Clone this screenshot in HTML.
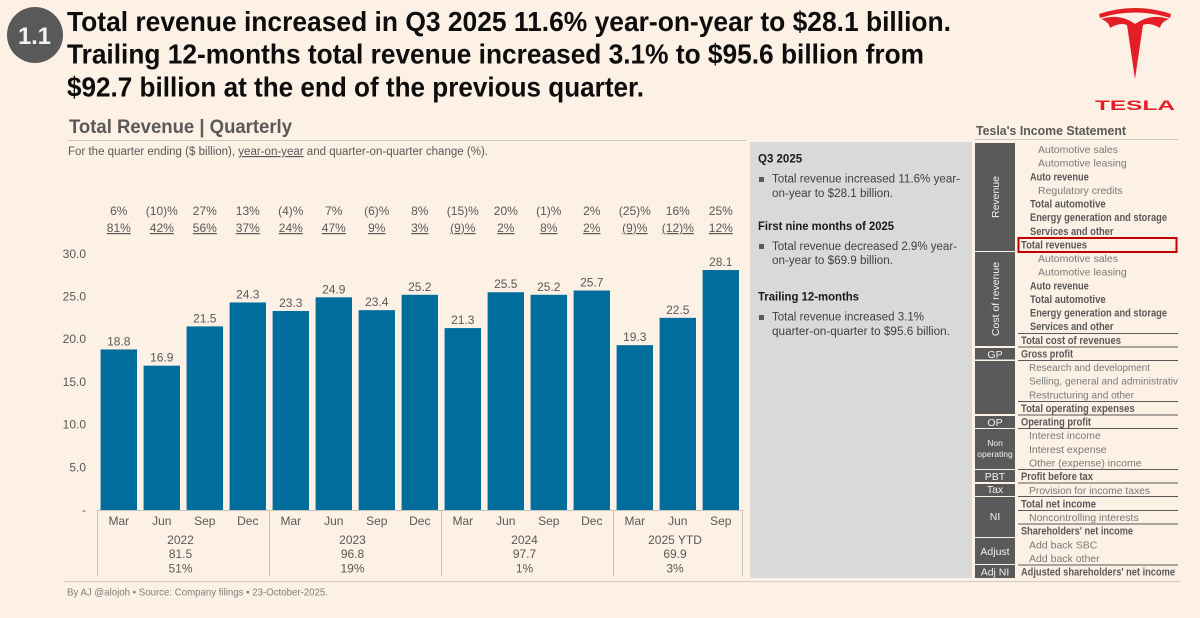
<!DOCTYPE html>
<html lang="en">
<head>
<meta charset="utf-8">
<title>Tesla Total Revenue Quarterly</title>
<style>
html,body{margin:0;padding:0;background:#fdf0e4;}
svg{display:block;font-family:"Liberation Sans",Arial,sans-serif;}
.r{font-size:10.5px;fill:#7a7a7a;}
.b{font-size:11px;font-weight:bold;fill:#595959;}
.rule{stroke:#595959;stroke-width:1;}
.side{fill:#595959;}
.sl{font-size:10.5px;fill:#f2f2f2;text-anchor:middle;}
.nt{font-size:11.5px;fill:#404040;}
.nh{font-size:11.5px;font-weight:bold;fill:#1a1a1a;}
</style>
</head>
<body>
<svg id="page" width="1200" height="618" viewBox="0 0 1200 618" xmlns="http://www.w3.org/2000/svg">
<rect width="1200" height="618" fill="#fdf0e4"/>

<circle cx="35" cy="35" r="28" fill="#595959"/>
<text x="18" y="44" font-size="24" font-weight="bold" fill="#f2f2f2" textLength="33" lengthAdjust="spacing">1.1</text>

<text x="67" y="31" font-size="28" font-weight="bold" fill="#0d0d0d" textLength="884" lengthAdjust="spacingAndGlyphs">Total revenue increased in Q3 2025 11.6% year-on-year to $28.1 billion.</text>
<text x="67" y="63.5" font-size="28" font-weight="bold" fill="#0d0d0d" textLength="857" lengthAdjust="spacingAndGlyphs">Trailing 12-months total revenue increased 3.1% to $95.6 billion from</text>
<text x="67" y="96.5" font-size="28" font-weight="bold" fill="#0d0d0d" textLength="577" lengthAdjust="spacingAndGlyphs">$92.7 billion at the end of the previous quarter.</text>

<g fill="#e31e26">
<path d="M1099,14 Q1135,2 1171,14 L1170,18 Q1135,7 1100,18 Z"/>
<path d="M1101,19 Q1120,13 1135,24 Q1150,13 1169,19 Q1161,22 1160,28 Q1150,22 1143,25 L1135,79 L1127,25 Q1120,22 1110,28 Q1109,22 1101,19 Z"/>
<text x="1095" y="110" font-size="14" font-weight="bold" textLength="80" lengthAdjust="spacingAndGlyphs">TESLA</text>
</g>

<text x="69" y="133" font-size="19" font-weight="bold" fill="#595959" textLength="223" lengthAdjust="spacingAndGlyphs">Total Revenue | Quarterly</text>
<line x1="67" y1="140.5" x2="746" y2="140.5" stroke="#cfc8c0" stroke-width="1"/>
<text x="68" y="155" font-size="11.5" fill="#595959" textLength="420" lengthAdjust="spacingAndGlyphs">For the quarter ending ($ billion), <tspan text-decoration="underline">year-on-year</tspan> and quarter-on-quarter change (%).</text>

<g id="chart"></g>

<rect x="750" y="142" width="222" height="436" fill="#d9d9d9"/>
<text class="nh" x="758" y="162.5">Q3 2025</text>
<rect x="759" y="177" width="5" height="5" fill="#595959"/>
<text class="nt" x="772" y="182.5" textLength="188" lengthAdjust="spacingAndGlyphs">Total revenue increased 11.6% year-</text>
<text class="nt" x="772" y="197" textLength="121" lengthAdjust="spacingAndGlyphs">on-year to $28.1 billion.</text>
<text class="nh" x="758" y="230" textLength="136" lengthAdjust="spacingAndGlyphs">First nine months of 2025</text>
<rect x="759" y="244" width="5" height="5" fill="#595959"/>
<text class="nt" x="772" y="250" textLength="185" lengthAdjust="spacingAndGlyphs">Total revenue decreased 2.9% year-</text>
<text class="nt" x="772" y="264" textLength="121" lengthAdjust="spacingAndGlyphs">on-year to $69.9 billion.</text>
<text class="nh" x="758" y="300.5" textLength="101" lengthAdjust="spacingAndGlyphs">Trailing 12-months</text>
<rect x="759" y="315" width="5" height="5" fill="#595959"/>
<text class="nt" x="772" y="320.5" textLength="152" lengthAdjust="spacingAndGlyphs">Total revenue increased 3.1%</text>
<text class="nt" x="772" y="335" textLength="178" lengthAdjust="spacingAndGlyphs">quarter-on-quarter to $95.6 billion.</text>

<text x="976" y="135" font-size="12.5" font-weight="bold" fill="#595959" textLength="150" lengthAdjust="spacingAndGlyphs">Tesla's Income Statement</text>
<line x1="975" y1="139.5" x2="1178" y2="139.5" stroke="#cfc8c0" stroke-width="1"/>

<g>
<rect class="side" x="975" y="143" width="40" height="108"/>
<text class="sl" transform="translate(999,197) rotate(-90)">Revenue</text>
<rect class="side" x="975" y="252" width="40" height="94"/>
<text class="sl" transform="translate(999,299) rotate(-90)">Cost of revenue</text>
<rect class="side" x="975" y="348" width="40" height="11.5"/>
<text class="sl" x="995" y="358">GP</text>
<rect class="side" x="975" y="361" width="40" height="53"/>
<rect class="side" x="975" y="416" width="40" height="12"/>
<text class="sl" x="995" y="426">OP</text>
<rect class="side" x="975" y="429" width="40" height="40"/>
<text class="sl" style="font-size:8.5px" x="995" y="446">Non</text>
<text class="sl" style="font-size:8.5px" x="995" y="457">operating</text>
<rect class="side" x="975" y="470" width="40" height="12"/>
<text class="sl" x="995" y="480">PBT</text>
<rect class="side" x="975" y="484" width="40" height="12"/>
<text class="sl" x="995" y="493">Tax</text>
<rect class="side" x="975" y="497" width="40" height="40"/>
<text class="sl" x="995" y="520">NI</text>
<rect class="side" x="975" y="538" width="40" height="26"/>
<text class="sl" x="995" y="555">Adjust</text>
<rect class="side" x="975" y="565" width="40" height="13"/>
<text class="sl" x="995" y="575.5">Adj NI</text>
</g>

<g>
<text class="r" x="1038" y="153">Automotive sales</text>
<text class="r" x="1038" y="166.6">Automotive leasing</text>
<text class="b" x="1030" y="180.3" textLength="58.7" lengthAdjust="spacingAndGlyphs">Auto revenue</text>
<text class="r" x="1038" y="193.9">Regulatory credits</text>
<text class="b" x="1030" y="207.5" textLength="75.7" lengthAdjust="spacingAndGlyphs">Total automotive</text>
<text class="b" x="1030" y="221.2" textLength="137" lengthAdjust="spacingAndGlyphs">Energy generation and storage</text>
<text class="b" x="1030" y="234.8" textLength="83.5" lengthAdjust="spacingAndGlyphs">Services and other</text>
<text class="b" x="1021" y="248.4" textLength="66" lengthAdjust="spacingAndGlyphs">Total revenues</text>
<rect x="1018.5" y="238" width="158" height="14" fill="none" stroke="#c00000" stroke-width="2"/>
<text class="r" x="1038" y="262">Automotive sales</text>
<text class="r" x="1038" y="275.7">Automotive leasing</text>
<text class="b" x="1030" y="289.3" textLength="58.7" lengthAdjust="spacingAndGlyphs">Auto revenue</text>
<text class="b" x="1030" y="302.9" textLength="75.7" lengthAdjust="spacingAndGlyphs">Total automotive</text>
<text class="b" x="1030" y="316.6" textLength="137" lengthAdjust="spacingAndGlyphs">Energy generation and storage</text>
<text class="b" x="1030" y="330.2" textLength="83.5" lengthAdjust="spacingAndGlyphs">Services and other</text>
<text class="b" x="1021" y="343.8" textLength="100" lengthAdjust="spacingAndGlyphs">Total cost of revenues</text>
<text class="b" x="1021" y="357.5" textLength="52" lengthAdjust="spacingAndGlyphs">Gross profit</text>
<text class="r" x="1029" y="371.1" textLength="121" lengthAdjust="spacingAndGlyphs">Research and development</text>
<text class="r" x="1029" y="384.7" textLength="149" lengthAdjust="spacingAndGlyphs">Selling, general and administrativ</text>
<text class="r" x="1029" y="398.3" textLength="105" lengthAdjust="spacingAndGlyphs">Restructuring and other</text>
<text class="b" x="1021" y="412" textLength="113.7" lengthAdjust="spacingAndGlyphs">Total operating expenses</text>
<text class="b" x="1021" y="425.6" textLength="70" lengthAdjust="spacingAndGlyphs">Operating profit</text>
<text class="r" x="1029" y="439.2">Interest income</text>
<text class="r" x="1029" y="452.9">Interest expense</text>
<text class="r" x="1029" y="466.5">Other (expense) income</text>
<text class="b" x="1021" y="480.1" textLength="72" lengthAdjust="spacingAndGlyphs">Profit before tax</text>
<text class="r" x="1029" y="493.8" textLength="121" lengthAdjust="spacingAndGlyphs">Provision for income taxes</text>
<text class="b" x="1021" y="507.4" textLength="75" lengthAdjust="spacingAndGlyphs">Total net income</text>
<text class="r" x="1029" y="521">Noncontrolling interests</text>
<text class="b" x="1021" y="534.6" textLength="112" lengthAdjust="spacingAndGlyphs">Shareholders' net income</text>
<text class="r" x="1029" y="548.3">Add back SBC</text>
<text class="r" x="1029" y="561.9">Add back other</text>
<text class="b" x="1021" y="575.5" textLength="154" lengthAdjust="spacingAndGlyphs">Adjusted shareholders' net income</text>
</g>

<g>
<line class="rule" x1="1018" y1="333.5" x2="1178" y2="333.5"/>
<line class="rule" x1="1018" y1="347" x2="1178" y2="347"/>
<line class="rule" x1="1018" y1="360.5" x2="1178" y2="360.5"/>
<line class="rule" x1="1018" y1="401.5" x2="1178" y2="401.5"/>
<line class="rule" x1="1018" y1="415" x2="1178" y2="415"/>
<line class="rule" x1="1018" y1="428.5" x2="1178" y2="428.5"/>
<line class="rule" x1="1018" y1="469.5" x2="1178" y2="469.5"/>
<line class="rule" x1="1018" y1="483" x2="1178" y2="483"/>
<line class="rule" x1="1018" y1="496.5" x2="1178" y2="496.5"/>
<line class="rule" x1="1018" y1="510.5" x2="1178" y2="510.5"/>
<line class="rule" x1="1018" y1="524" x2="1178" y2="524"/>
<line class="rule" x1="1018" y1="565" x2="1178" y2="565"/>
</g>

<line x1="64" y1="581.5" x2="1180" y2="581.5" stroke="#d9d0c5" stroke-width="1.2"/>
<text x="67" y="595.5" font-size="10.5" fill="#7f7f7f" textLength="261" lengthAdjust="spacingAndGlyphs">By AJ @alojoh • Source: Company filings • 23-October-2025.</text>

<script>
var quarters = ["Mar","Jun","Sep","Dec","Mar","Jun","Sep","Dec","Mar","Jun","Sep","Dec","Mar","Jun","Sep"];
var revenue = [18.8,16.9,21.5,24.3,23.3,24.9,23.4,25.2,21.3,25.5,25.2,25.7,19.3,22.5,28.1];
var qoqLabels = ["6%","(10)%","27%","13%","(4)%","7%","(6)%","8%","(15)%","20%","(1)%","2%","(25)%","16%","25%"];
var yoyLabels = ["81%","42%","56%","37%","24%","47%","9%","3%","(9)%","2%","8%","2%","(9)%","(12)%","12%"];
var yTicks = [0,5,10,15,20,25,30];
var yearNames = ["2022","2023","2024","2025 YTD"];
var yearQuarterCounts = [4,4,4,3];
var yearTotals = ["81.5","96.8","97.7","69.9"];
var yearGrowth = ["51%","19%","1%","3%"];

(function () {
  var NS = "http://www.w3.org/2000/svg";
  var chart = document.getElementById("chart");
  var left = 97.5, step = 43, barWidth = 36.4, baseY = 510, pxPerUnit = 8.54;
  function xBand(i) { return left + step * i; }
  function xCenter(i) { return xBand(i) + step / 2 - 0.2; }
  function yScale(v) { return baseY - v * pxPerUnit; }
  function make(tag, attrs, txt) {
    var el = document.createElementNS(NS, tag);
    for (var k in attrs) el.setAttribute(k, attrs[k]);
    if (txt !== undefined) el.textContent = txt;
    chart.appendChild(el);
    return el;
  }
  var textStyle = { "font-size": "12", "fill": "#595959", "text-anchor": "middle" };
  function label(x, y, txt) {
    return make("text", Object.assign({ x: x, y: y }, textStyle), txt);
  }

  yTicks.forEach(function (t) {
    var el = make("text", { x: 86, y: yScale(t) + 4, "font-size": "12", fill: "#595959", "text-anchor": "end" }, t === 0 ? "-" : t.toFixed(1));
    
    
  });

  revenue.forEach(function (v, i) {
    var bar = make("rect", { x: xCenter(i) - barWidth / 2, y: yScale(v), width: barWidth, height: baseY - yScale(v), fill: "#006d9c" });
    
    
    var val = label(xCenter(i), yScale(v) - 4, v.toFixed(1));
    
    
    var q = label(xCenter(i), 525, quarters[i]);
    
    
  });

  qoqLabels.forEach(function (s, i) {
    var a = label(xCenter(i), 215, s);
    
    
  });
  yoyLabels.forEach(function (s, i) {
    var b = label(xCenter(i), 232, s);
    b.setAttribute("text-decoration", "underline");
    
    
  });

  var axis = make("line", { x1: left, y1: baseY + 0.5, x2: xBand(revenue.length), y2: baseY + 0.5, stroke: "#c9c2b8", "stroke-width": 1 });
  
  

  var start = 0;
  function divider(i) {
    var d = make("line", { x1: xBand(i), y1: baseY, x2: xBand(i), y2: 576, stroke: "#c9c2b8", "stroke-width": 1 });
    
    
  }
  divider(0);
  yearNames.forEach(function (name, g) {
    var end = start + yearQuarterCounts[g];
    var cx = (xBand(start) + xBand(end)) / 2 - 3;
    var n = label(cx, 544, name);
    
    
    var t = label(cx, 558, yearTotals[g]);
    
    
    var p = label(cx, 572.5, yearGrowth[g]);
    
    
    divider(end);
    start = end;
  });
})();
</script>
</svg>
</body>
</html>
